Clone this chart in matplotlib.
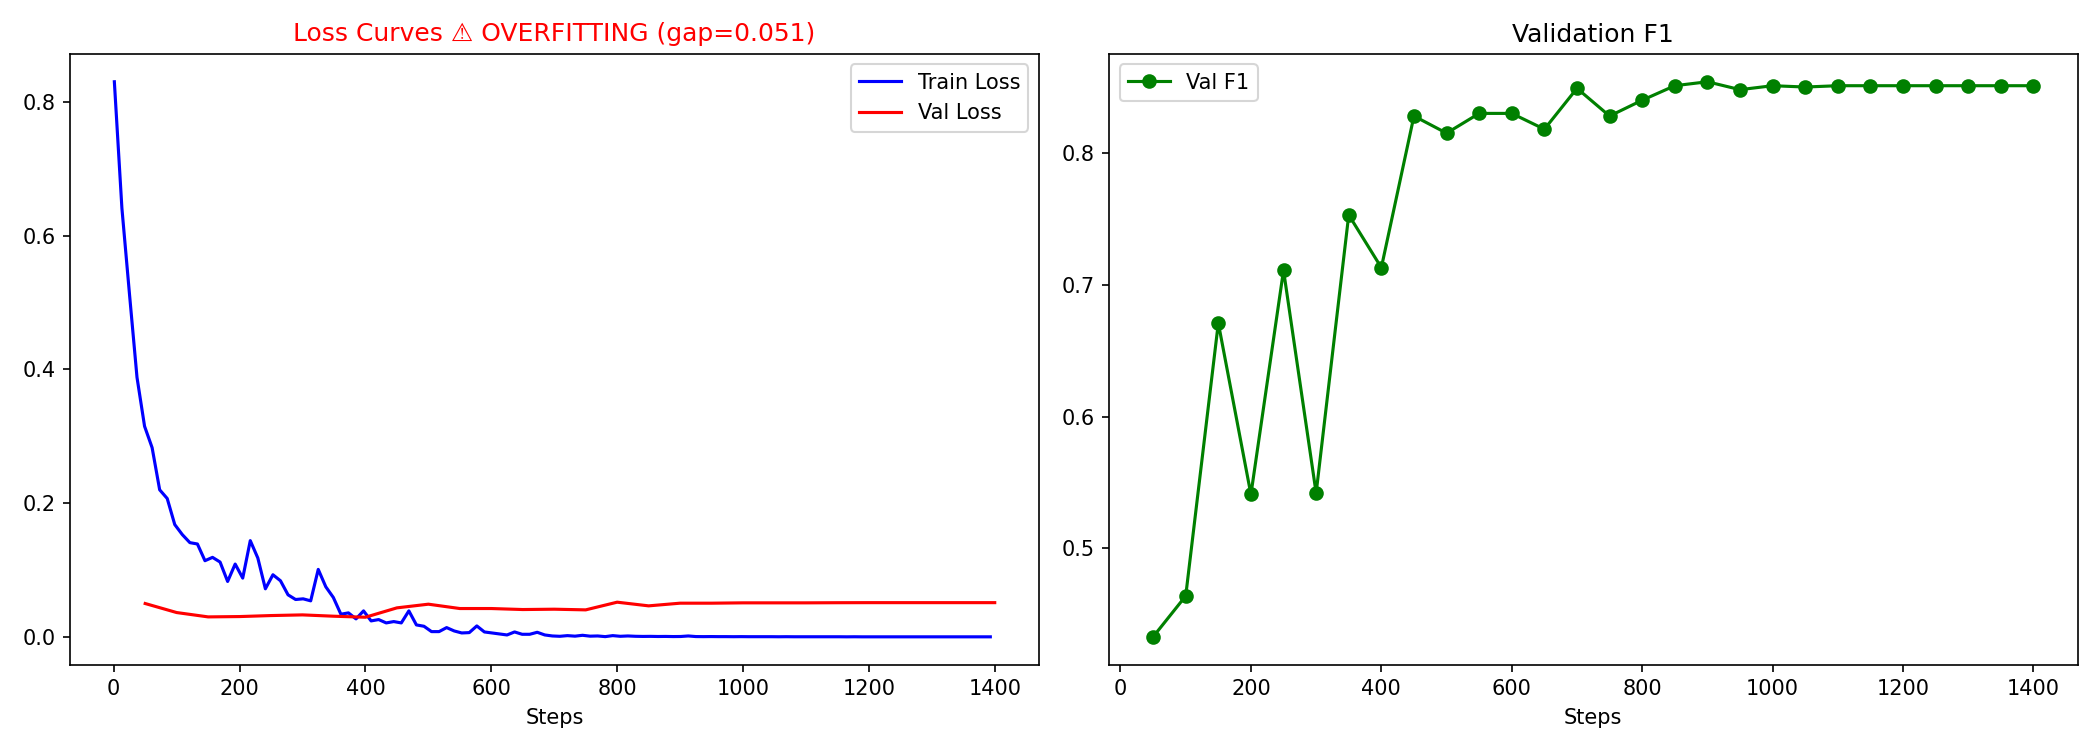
import matplotlib
matplotlib.use('Agg')
import matplotlib.pyplot as plt

# train loss logged every 12 steps starting at step 1
train_steps = list(range(1, 1400, 12))
train_loss = [
    0.830, 0.641, 0.513, 0.388, 0.315, 0.283, 0.220, 0.207, 0.168, 0.153,
    0.141, 0.139, 0.114, 0.119, 0.112, 0.083, 0.109, 0.088, 0.144, 0.118,
    0.072, 0.093, 0.084, 0.063, 0.056, 0.057, 0.054, 0.101, 0.075, 0.059,
    0.034, 0.036, 0.027, 0.039, 0.024, 0.026, 0.021, 0.023, 0.021, 0.039,
    0.018, 0.016, 0.008, 0.008, 0.014, 0.009, 0.006, 0.0065, 0.0165, 0.0075,
    0.006, 0.0045, 0.003, 0.0075, 0.004, 0.004, 0.007, 0.003, 0.0015, 0.001,
    0.002, 0.0012, 0.0025, 0.0012, 0.0015, 0.0005, 0.002, 0.001, 0.0015, 0.001,
    0.0008, 0.0009, 0.0007, 0.0008, 0.0006, 0.0007, 0.0015, 0.0006, 0.0005, 0.0006,
    0.0005, 0.0005, 0.0004, 0.0005, 0.0004, 0.0004, 0.0004, 0.0004, 0.0003, 0.0004,
    0.0003, 0.0003, 0.0003, 0.0003, 0.0003, 0.0003, 0.0003, 0.0002, 0.0003, 0.0002,
    0.0002, 0.0002, 0.0002, 0.0002, 0.0002, 0.0002, 0.0002, 0.0002, 0.0002, 0.0002,
    0.0002, 0.0002, 0.0002, 0.0002, 0.0002, 0.0002, 0.0002,
]

eval_steps = [50, 100, 150, 200, 250, 300, 350, 400, 450, 500,
              550, 600, 650, 700, 750, 800, 850, 900, 950, 1000,
              1050, 1100, 1150, 1200, 1250, 1300, 1350, 1400]
val_loss = [0.050, 0.0365, 0.030, 0.0305, 0.032, 0.033, 0.031, 0.0295, 0.0435, 0.049,
            0.0425, 0.0425, 0.041, 0.0415, 0.0405, 0.052, 0.0465, 0.0505, 0.0505, 0.051,
            0.051, 0.051, 0.0512, 0.0513, 0.0513, 0.0513, 0.0513, 0.0513]
val_f1 = [0.433, 0.464, 0.671, 0.541, 0.711, 0.542, 0.753, 0.713, 0.828, 0.815,
          0.830, 0.830, 0.818, 0.849, 0.828, 0.840, 0.851, 0.854, 0.848, 0.851,
          0.850, 0.851, 0.851, 0.851, 0.851, 0.851, 0.851, 0.851]

gap = val_loss[-1] - train_loss[-1]

fig, (ax1, ax2) = plt.subplots(1, 2, figsize=(14, 5), dpi=150)

ax1.plot(train_steps, train_loss, color='blue', label='Train Loss')
ax1.plot(eval_steps, val_loss, color='red', label='Val Loss')
ax1.set_xlabel('Steps')
ax1.set_title('Loss Curves \u26a0 OVERFITTING (gap=%.3f)' % gap, color='red')
ax1.legend()

ax2.plot(eval_steps, val_f1, color='green', marker='o', label='Val F1')
ax2.set_xlabel('Steps')
ax2.set_title('Validation F1')
ax2.legend()

plt.tight_layout()
plt.savefig('out.png')
